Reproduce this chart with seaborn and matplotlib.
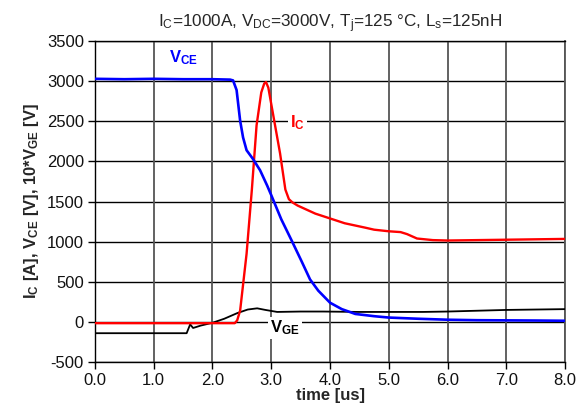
import matplotlib
matplotlib.use("Agg")
import matplotlib.pyplot as plt
import seaborn as sns
import pandas as pd

# ---- data ----
t_vce = [0.0, 0.5, 1.0, 1.5, 2.0, 2.3, 2.35, 2.41, 2.47, 2.52, 2.58, 2.69, 2.81, 2.93, 3.0,
         3.17, 3.35, 3.52, 3.66, 3.8, 4.0, 4.2, 4.43, 4.75, 5.0, 5.5, 6.0, 6.5, 7.0, 7.5, 8.0]
v_vce = [3030, 3025, 3030, 3025, 3025, 3020, 3010, 2890, 2510, 2300, 2140, 2030, 1890, 1700, 1580,
         1280, 1010, 750, 530, 390, 240, 160, 100, 72, 55, 40, 28, 22, 20, 18, 15]

t_ic = [0.0, 0.5, 1.0, 1.5, 2.0, 2.38, 2.42, 2.47, 2.58, 2.67, 2.75, 2.83, 2.88, 2.91, 2.95, 3.05,
        3.15, 3.24, 3.30, 3.36, 3.45, 3.57, 3.75, 4.0, 4.25, 4.6, 4.75, 5.0, 5.2, 5.31, 5.48, 5.75,
        6.0, 6.5, 7.0, 7.5, 8.0]
v_ic = [-15, -15, -15, -15, -15, -15, 20, 140, 850, 1650, 2450, 2860, 2970, 2990, 2920, 2510,
        2100, 1650, 1530, 1490, 1450, 1410, 1350, 1290, 1230, 1175, 1150, 1130, 1120, 1095, 1040, 1020,
        1015, 1020, 1025, 1030, 1035]

t_vge = [0.0, 0.5, 1.0, 1.56, 1.62, 1.67, 1.8, 2.0, 2.2, 2.42, 2.6, 2.76, 2.9, 3.1, 3.5, 3.88,
         4.5, 5.0, 5.58, 6.0, 6.5, 7.0, 7.5, 8.0]
v_vge = [-140, -140, -140, -140, -30, -75, -45, -10, 40, 110, 155, 170, 150, 125, 130, 130,
         125, 125, 125, 130, 140, 150, 155, 160]

x_ticks = [0, 1, 2, 3, 4, 5, 6, 7, 8]
y_ticks = [-500, 0, 500, 1000, 1500, 2000, 2500, 3000, 3500]

sns.set_style("white")
plt.rcParams['font.family'] = ['Liberation Sans', 'DejaVu Sans']
plt.rcParams['mathtext.default'] = 'regular'

fig = plt.figure(figsize=(5.79, 4.11), dpi=100)
ax = fig.add_axes([0.164, 0.119, 0.812, 0.781])

df_vce = pd.DataFrame({"t": t_vce, "v": v_vce})
df_ic = pd.DataFrame({"t": t_ic, "v": v_ic})
df_vge = pd.DataFrame({"t": t_vge, "v": v_vge})

sns.lineplot(data=df_vge, x="t", y="v", ax=ax, color="black", lw=1.3, zorder=3)
sns.lineplot(data=df_ic, x="t", y="v", ax=ax, color="#ff0000", lw=1.7, zorder=4)
sns.lineplot(data=df_vce, x="t", y="v", ax=ax, color="#0000ff", lw=1.9, zorder=5)

ax.set_xlim(0, 8)
ax.set_ylim(-500, 3500)
ax.set_xticks(x_ticks)
ax.set_xticklabels([f"{v:.1f}" for v in x_ticks])
ax.set_yticks(y_ticks)
ax.set_yticklabels([str(v) for v in y_ticks])

for y in y_ticks:
    ax.axhline(y, color="black", lw=1.0, zorder=1)
for x in x_ticks:
    ax.axvline(x, color="#555555", lw=1.3, zorder=1)

for s in ax.spines.values():
    s.set_visible(True)
    s.set_color("black")
    s.set_linewidth(1.0)
ax.spines["right"].set_color("#555555")
ax.spines["right"].set_linewidth(1.3)

ax.tick_params(axis="both", direction="out", length=5, width=1, color="black",
               labelsize=12, labelcolor="#111111", bottom=True, left=True, pad=3)

ax.set_xlabel("time [us]", fontsize=12, fontweight="bold", labelpad=0)
ax.set_ylabel("I$_C$ [A], V$_{CE}$ [V], 10*V$_{GE}$ [V]", fontsize=12, fontweight="bold", labelpad=4)

ax.set_title("I$_C$=1000A, V$_{DC}$=3000V, T$_j$=125 °C, L$_s$=125nH", fontsize=12.3, pad=10)

box = dict(facecolor="white", edgecolor="none", pad=1.5)
ax.text(1.5, 3290, "V$_{CE}$", color="#0000ff", fontsize=12, fontweight="bold",
        ha="center", va="center", zorder=6)
ax.text(3.44, 2490, "I$_C$", color="#ff0000", fontsize=12, fontweight="bold",
        ha="center", va="center", bbox=box, zorder=6)
ax.text(3.23, -75, "V$_{GE}$", color="black", fontsize=12, fontweight="bold",
        ha="center", va="center", bbox=box, zorder=6)

fig.savefig("out.png", dpi=100)
